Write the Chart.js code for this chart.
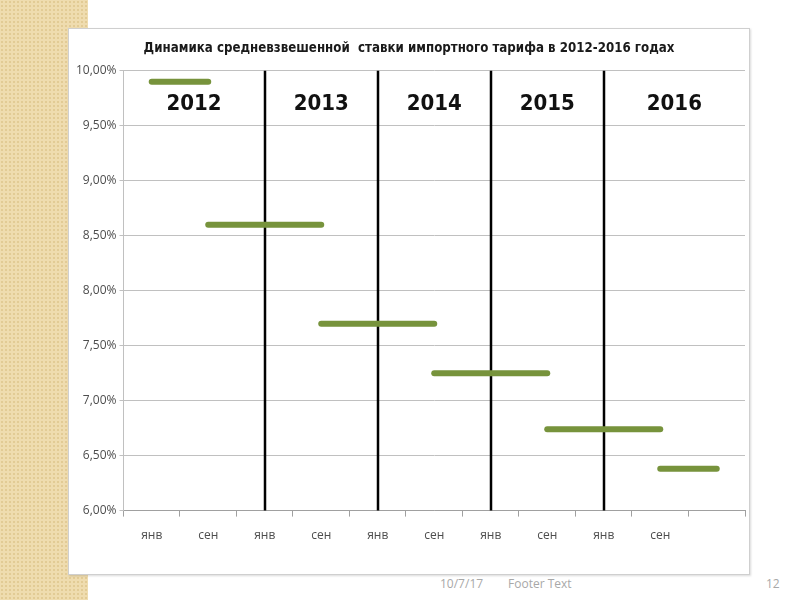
<!DOCTYPE html>
<html>
<head>
<meta charset="utf-8">
<script src="https://cdn.jsdelivr.net/npm/chart.js@4/dist/chart.umd.min.js"></script>
<style>
  html, body { margin: 0; padding: 0; }
  body { width: 800px; height: 600px; position: relative; background: #fff; overflow: hidden; font-family: "Open Sans", sans-serif; }
  .strip {
    position: absolute; left: 0; top: 0; width: 88px; height: 600px;
    background-color: #efdcaf;
    background-image: radial-gradient(#e2cb95 1px, transparent 1.2px);
    background-size: 4px 4px;
  }
  .frame {
    position: absolute; left: 68px; top: 28px; width: 680px; height: 545px;
    background: #fff; border: 1px solid #cfcfcf; box-shadow: 1px 1px 2px rgba(0,0,0,0.15);
  }
  .footer { position: absolute; top: 575px; font-size: 12px; color: #a8a8a8; }
</style>
</head>
<body>
<div class="strip"></div>
<div class="frame"><canvas id="c" width="680" height="545"></canvas></div>
<div class="footer" style="left:440px">10/7/17</div>
<div class="footer" style="left:508px">Footer Text</div>
<div class="footer" style="left:766px">12</div>
<script>
const months = ["янв", "сен", "янв", "сен", "янв", "сен", "янв", "сен", "янв", "сен", ""];
const years = ["2012", "2013", "2014", "2015", "2016"];
const dividers = [2, 4, 6, 8];
const segStart = [0, 1, 3, 5, 7, 9];
const segEnd = [1, 3, 5, 7, 9, 10];
const rates = [9.9, 8.6, 7.7, 7.25, 6.74, 6.38];
const yTicks = [6, 6.5, 7, 7.5, 8, 8.5, 9, 9.5, 10];

const green = "#77933c";

let datasets = rates.map((r, i) => {
  let data = months.map(() => null);
  data[segStart[i]] = r;
  data[segEnd[i]] = r;
  return {
    data: data,
    borderColor: green,
    borderWidth: 6,
    borderCapStyle: "round",
    pointRadius: 0,
    spanGaps: true,
    fill: false
  };
});

const yearPlugin = {
  id: "years",
  beforeDatasetsDraw(chart){
    let ctx = chart.ctx, x = chart.scales.x, area = chart.chartArea;
    ctx.save();
    ctx.strokeStyle = "#000";
    ctx.lineWidth = 2.5;
    dividers.forEach((d)=>{
      let px = Math.round(x.getPixelForValue(d));
      ctx.beginPath();
      ctx.moveTo(px, area.top);
      ctx.lineTo(px, area.bottom);
      ctx.stroke();
    });
    ctx.restore();
  },
  afterDatasetsDraw(chart){
    let ctx = chart.ctx, x = chart.scales.x, y = chart.scales.y, area = chart.chartArea;
    let edges = [area.left].concat(dividers.map((d)=> x.getPixelForValue(d)), [area.right]);
    ctx.save();
    ctx.fillStyle = "#111";
    ctx.font = "bold 22px 'Liberation Sans Narrow', 'DejaVu Sans Condensed', sans-serif";
    ctx.textAlign = "center";
    ctx.textBaseline = "middle";
    years.forEach((yr, i)=>{
      ctx.fillText(yr, (edges[i] + edges[i + 1]) / 2, y.getPixelForValue(9.7));
    });
    ctx.restore();
  }
};

new Chart(document.getElementById("c"), {
  type: "line",
  data: { labels: months, datasets: datasets },
  plugins: [yearPlugin],
  options: {
    responsive: false,
    animation: false,
    layout: { padding: { left: 4, right: 4, top: 0, bottom: 19 } },
    plugins: {
      legend: { display: false },
      tooltip: { enabled: false },
      title: {
        display: true,
        text: "Динамика средневзвешенной  ставки импортного тарифа в 2012-2016 годах",
        color: "#1a1a1a",
        font: { family: "'Liberation Sans Narrow', 'DejaVu Sans Condensed', sans-serif", size: 13.2, weight: "bold" },
        padding: { top: 12, bottom: 14 }
      }
    },
    scales: {
      x: {
        offset: true,
        grid: { offset: true, drawOnChartArea: false, color: "#a0a0a0", tickLength: 6 },
        border: { color: "#a0a0a0" },
        ticks: { color: "#4d4d4d", font: { family: "'Open Sans'", size: 12 }, padding: 12, maxRotation: 0, autoSkip: false }
      },
      y: {
        min: 6,
        max: 10,
        afterBuildTicks(axis){ axis.ticks = yTicks.map((v)=>({ value: v })); },
        grid: { color: "#c0c0c0", tickLength: 4 },
        border: { color: "#c0c0c0" },
        ticks: {
          color: "#4d4d4d",
          font: { family: "'Open Sans'", size: 12 },
          padding: 3,
          callback: (v)=> v.toFixed(2).replace(".", ",") + "%"
        }
      }
    }
  }
});
</script>
</body>
</html>
